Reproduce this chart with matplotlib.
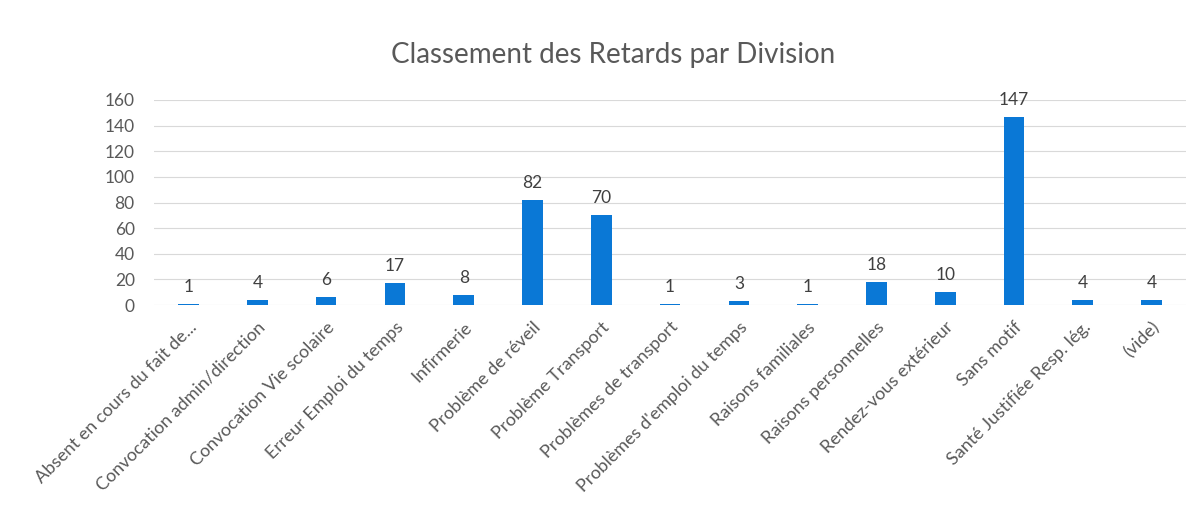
import matplotlib.pyplot as plt
import numpy as np

categories = [
    "Absent en cours du fait de...",
    "Convocation admin/direction",
    "Convocation Vie scolaire",
    "Erreur Emploi du temps",
    "Infirmerie",
    "Problème de réveil",
    "Problème Transport",
    "Problèmes de transport",
    "Problèmes d'emploi du temps",
    "Raisons familiales",
    "Raisons personnelles",
    "Rendez-vous extérieur",
    "Sans motif",
    "Santé Justifiée Resp. lég.",
    "(vide)",
]
values = [1, 4, 6, 17, 8, 82, 70, 1, 3, 1, 18, 10, 147, 4, 4]

plt.rcParams['font.family'] = ['Lato', 'DejaVu Sans']
gris = '#595959'

fig = plt.figure(figsize=(11.86, 5.18), dpi=100)
ax = fig.add_axes([0.13, 0.411, 0.87, 0.396])

x = np.arange(len(categories))
bars = ax.bar(x, values, width=0.3, color='#0a78d6', zorder=3)
for b, v in zip(bars, values):
    ax.text(b.get_x() + b.get_width() / 2, v + 7, str(v),
            ha='center', va='bottom', fontsize=12.5, color='#404040')

ax.set_xlim(-0.5, len(categories) - 0.5)
ax.set_ylim(0, 160)
ax.set_yticks(range(0, 161, 20))
ax.set_xticks(x)
ax.set_xticklabels(categories, rotation=45, ha='right', rotation_mode='anchor',
                   fontsize=13, color=gris)
ax.tick_params(axis='y', labelsize=12.5, labelcolor=gris, length=0, pad=14)
ax.tick_params(axis='x', length=0, pad=10)
ax.grid(axis='y', color='#d9d9d9', linewidth=0.8, zorder=0)
for s in ax.spines.values():
    s.set_visible(False)

fig.text(0.517, 0.893, 'Classement des Retards par Division',
         ha='center', va='center', fontsize=20, color=gris)

fig.savefig('out.png', dpi=100)
